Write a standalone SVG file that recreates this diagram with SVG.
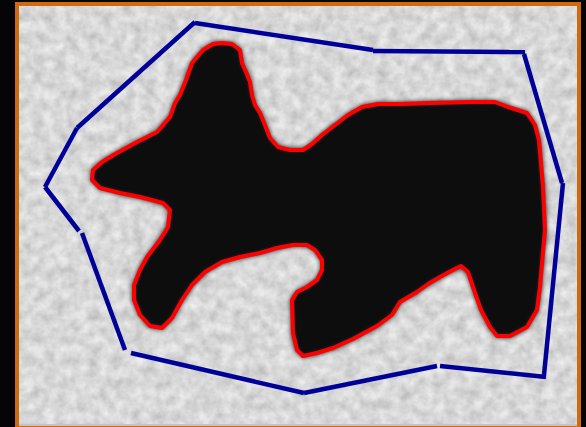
<svg xmlns="http://www.w3.org/2000/svg" width="586" height="427" viewBox="0 0 586 427">
<defs>
<filter id="noise" x="0" y="0" width="100%" height="100%">
<feTurbulence type="fractalNoise" baseFrequency="0.09" numOctaves="3" seed="5" result="t"/>
<feColorMatrix in="t" type="matrix" values="0.45 0 0 0 0.46  0.45 0 0 0 0.46  0.45 0 0 0 0.46  0 0 0 0 1"/>
</filter>
<filter id="blur" x="-10%" y="-10%" width="120%" height="120%">
<feGaussianBlur stdDeviation="2.5"/>
</filter>
<path id="blob" d="M222,43 L232,44 L240,50 L242,63 L246,72 L250,82 L252,95 L255,105 L260,113 L265,125 L270,138 L278,147 L290,150 L303,150 L312,144 L322,135 L335,125 L348,115 L362,107 L378,104 L400,104 L430,103 L470,102 L495,102 L508,107 L527,113 L535,125 L539,140 L541,163 L543,187 L545,230 L542,263 L540,287 L537,310 L527,327 L510,336 L497,336 L490,327 L481,310 L474,290 L468,272 L461,266 L453,270 L440,277 L428,284 L417,292 L400,302 L392,315 L377,326 L353,339 L333,348 L317,353 L303,356 L297,350 L293,333 L292,300 L297,292 L307,287 L317,280 L322,270 L322,260 L315,250 L307,245 L293,245 L277,248 L260,253 L240,257 L222,262 L205,272 L192,285 L182,300 L172,318 L162,328 L150,326 L140,315 L134,300 L134,285 L140,270 L147,257 L160,240 L168,227 L170,210 L163,203 L140,197 L120,193 L100,188 L92,180 L93,170 L102,162 L117,153 L137,142 L157,132 L170,117 L175,103 L180,95 L186,80 L192,63 L203,50 L213,44 Z"/>
</defs>
<style>
.hull line{stroke:#000099;stroke-width:4.5;stroke-linecap:butt}
</style>
<rect x="0" y="0" width="586" height="427" fill="#050505"/>
<rect x="17" y="4" width="562" height="424" fill="#c4c4c4" stroke="#d06a10" stroke-width="4"/>
<rect x="19" y="6" width="558" height="418" filter="url(#noise)"/>
<g id="shape">
<use href="#blob" fill="#080808" stroke="#080808" stroke-width="3" filter="url(#blur)"/>
<use href="#blob" fill="none" stroke="#ff0000" stroke-width="4" stroke-linejoin="round"/>
</g>
<g id="hull" class="hull">
<line x1="77" y1="128" x2="195" y2="22"/>
<line x1="195" y1="23" x2="373" y2="50"/>
<line x1="373" y1="51" x2="525" y2="52"/>
<line x1="524" y1="54" x2="562" y2="183"/>
<line x1="563" y1="183" x2="544" y2="375"/>
<line x1="546" y1="377" x2="440" y2="366"/>
<line x1="437" y1="366" x2="304" y2="393"/>
<line x1="304" y1="393" x2="131" y2="353"/>
<line x1="125" y1="350" x2="82" y2="233"/>
<line x1="79" y1="231" x2="45" y2="187"/>
<line x1="45" y1="187" x2="77" y2="128"/>
</g>
</svg>
